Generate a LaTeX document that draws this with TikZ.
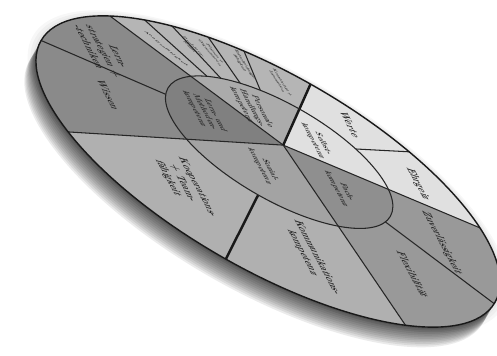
\documentclass[tikz,border=0pt]{standalone}
\usepackage{tikz}

% one piece of the ring, from the hub out to the rim
\newcommand{\ringpart}[3]{\fill[#1] (hub) -- (#2:5) arc[start angle=#2, end angle=#3, radius=5] -- cycle;}

\begin{document}
\begin{tikzpicture}[
        ringtext/.style={align=center, text=black!85, transform shape, rotate=-59, inner sep=1pt},
        outertext/.style={ringtext, font=\footnotesize\bfseries},
        innertext/.style={ringtext, font=\scriptsize\bfseries, scale=0.85},
        tinytext/.style={align=center, text=black!85, transform shape, inner sep=0pt, font=\tiny\bfseries, scale=0.6},
        darkseg/.style={fill=black!46},
        midseg/.style={fill=black!31},
        lightseg/.style={fill=black!12},
        divider/.style={draw=black!85, line width=0.6pt},
        thickdivider/.style={draw=black!90, line width=1.4pt}
    ]
    \useasboundingbox (0,0) rectangle (9.94,7.1);

    % tilted disc
    \begin{scope}[cm={0.9076,-0.524,0.194,0.336,(5.36,3.67)}]
    \coordinate (hub) at (0,1.57);
    \coordinate (mid) at (0,1.15);

    % shadow under the rim
    \foreach \k in {1,...,12}
        \fill[black, opacity=0.08] (0,-0.1*\k) circle (5);
    \foreach \r in {5.06,5.12,5.18}
        \fill[black, opacity=0.03] (0,0) circle (\r);

    % Outer ring
    \ringpart{midseg}{222.6}{271.6}
    \ringpart{midseg}{271.6}{318.4}
    \ringpart{fill=black!40}{318.4}{359.2}
    \ringpart{fill=black!40}{359.2}{396.1}
    \ringpart{lightseg}{36.1}{64.6}
    \ringpart{lightseg}{64.6}{91.5}
    \ringpart{fill=black!29}{91.5}{145}
    \ringpart{darkseg}{145}{180}
    \ringpart{darkseg}{180}{222.6}

    % outer dividers
    \foreach \a in {108,117,126.5,134.2,180,359.2,64.6}
        \draw[divider] (hub) -- (\a:5);
    \draw[thickdivider] (hub) -- (271.6:5);

    % Inner ring
    \begin{scope}
    \clip (mid) circle (2.45);
    \ringpart{fill=black!50}{145}{222.6}
    \ringpart{fill=black!33}{91.5}{145}
    \ringpart{lightseg}{36.1}{91.5}
    \ringpart{fill=black!44}{-41.6}{36.1}
    \ringpart{fill=black!36}{222.6}{318.4}
    \end{scope}

    % main dividers
    \foreach \a in {222.6,145,36.1,-41.6}
        \draw[divider] (hub) -- (\a:5);
    \draw[thickdivider] (hub) -- (91.5:5);
    \draw[divider] (mid) circle (2.45);
    \draw[black!90, line width=0.8pt] (0,0) circle (5);

    % Outer labels
    \node[outertext] (koop) at (-1.3,-2.7) {Kooperations-\\+ Team-\\fähigkeit};
    \node[outertext] (komm) at (1.49,-2.65) {Kommunikations-\\kompetenz};
    \node[outertext] (flex) at (3.38,-0.88) {Flexibilität};
    \node[outertext] (zuverl) at (3.55,1.3) {Zuverlässigkeit};
    \node[outertext] (ehrgeiz) at (2.6,3.3) {Ehrgeiz};
    \node[outertext] (werte) at (0.91,4.19) {Werte};
    \node[outertext] (lernen) at (-3.85,1.1) {Lern-\\strategien +\\-techniken};
    \node[outertext] (wissen) at (-3.37,-0.71) {Wissen};

    % narrow pieces at the top
    \node[tinytext, rotate=-24] (analyse) at (-2.85,2.85) {Analysefähigkeit};
    \node[tinytext, rotate=-35] (problem) at (-2.45,3.6) {Problem-\\lösen};
    \node[tinytext, rotate=-46] (planen) at (-2.05,3.85) {Planen +\\Organisieren};
    \node[tinytext, rotate=-55] (entscheid) at (-1.45,4.15) {Entscheidungs-\\fähigkeit};
    \node[tinytext, rotate=-55] (kreativ) at (-0.65,4.3) {Kreativität +\\Innovation};

    % Inner labels
    \node[innertext] (selbst) at (0.55,2.6) {Selbst-\\kompetenz};
    \node[innertext] (fach) at (1.4,1.05) {Fach-\\kompetenz};
    \node[innertext] (sozial) at (-0.08,0.08) {Sozial-\\kompetenz};
    \node[innertext] (methode) at (-1.61,1.03) {Lern- und\\Methoden-\\kompetenz};
    \node[innertext] (person) at (-0.87,2.42) {Personale\\Handlungs-\\kompetenz};
    \end{scope}

\end{tikzpicture}
\end{document}
